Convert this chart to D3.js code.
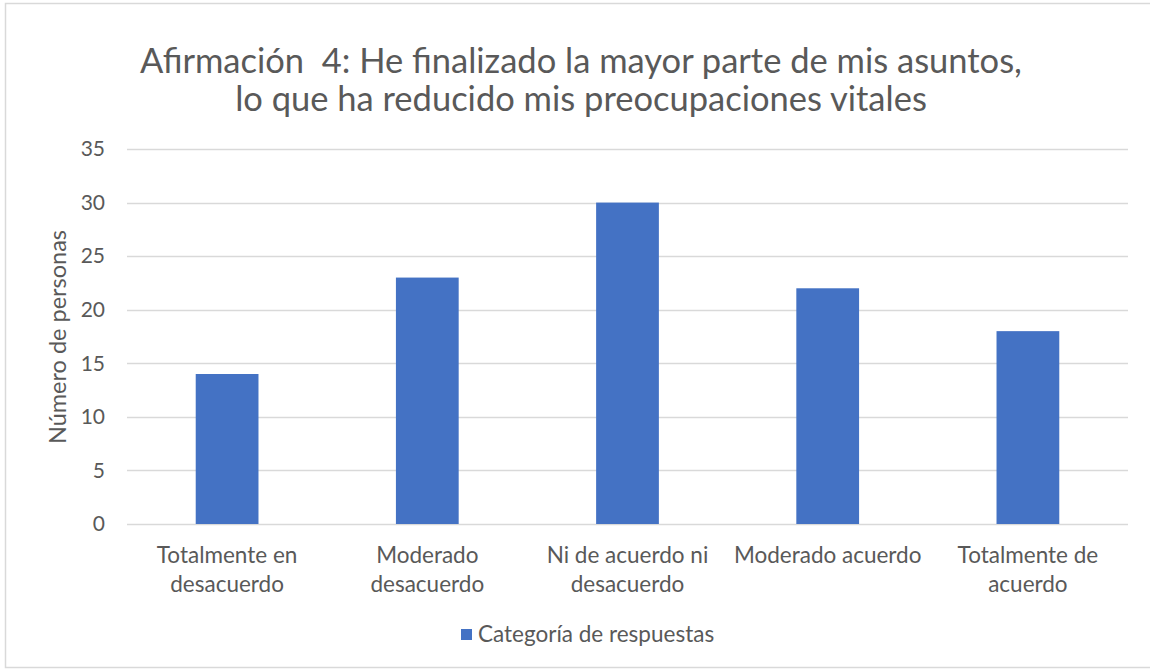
<!DOCTYPE html>
<html>
<head>
<meta charset="utf-8">
<script src="https://cdn.jsdelivr.net/npm/d3@7"></script>
<style>
  body { margin: 0; background: #fff; }
  text { font-family: Lato, "Open Sans", sans-serif; fill: #595959; white-space: pre; }
</style>
</head>
<body>
<svg id="chart"></svg>
<script>
var titleLines = ['Afirmación  4: He finalizado la mayor parte de mis asuntos,',
                  'lo que ha reducido mis preocupaciones vitales'];
var categories = [['Totalmente en', 'desacuerdo'],
                  ['Moderado', 'desacuerdo'],
                  ['Ni de acuerdo ni', 'desacuerdo'],
                  ['Moderado acuerdo'],
                  ['Totalmente de', 'acuerdo']];
var values = [14, 23, 30, 22, 18];
var yTicks = [0, 5, 10, 15, 20, 25, 30, 35];
var seriesName = 'Categoría de respuestas';
var yLabel = 'Número de personas';

var width = 1150,
    height = 672,
    plotLeft = 127,
    plotRight = 1128,
    plotTop = 149,
    plotBottom = 524,
    barColor = '#4472c4',
    gridColor = '#d9d9d9';

var svg = d3.select('svg#chart')
    .attr('width', width)
    .attr('height', height);

// outer frame
svg.append('rect')
    .attr('x', 5.5)
    .attr('y', 3.5)
    .attr('width', 1160)
    .attr('height', 664)
    .attr('fill', 'white')
    .attr('stroke', gridColor)
    .attr('stroke-width', 1.5);

var x = d3.scaleBand()
    .domain(d3.range(categories.length))
    .range([plotLeft, plotRight])
    .padding(0);

var y = d3.scaleLinear()
    .domain([0, 35])
    .range([plotBottom, plotTop]);

// gridlines
svg.append('g')
    .selectAll('line')
    .data(yTicks)
    .enter().append('line')
    .attr('x1', plotLeft)
    .attr('x2', plotRight)
    .attr('y1', function(d) { return Math.round(y(d)) + 0.5; })
    .attr('y2', function(d) { return Math.round(y(d)) + 0.5; })
    .attr('stroke', gridColor)
    .attr('stroke-width', 1.3);

// y tick labels via axis
var yAxis = svg.append('g')
    .attr('transform', 'translate(' + (plotLeft - 22) + ',0)')
    .call(d3.axisLeft(y).tickValues(yTicks).tickSize(0).tickPadding(0));
yAxis.select('.domain').remove();
yAxis.selectAll('text')
    .attr('font-size', 21)
    .attr('font-family', null)
    .attr('fill', null);

// bars
var barWidth = x.bandwidth() / 3.19;
svg.append('g')
    .selectAll('rect')
    .data(values)
    .enter().append('rect')
    .attr('x', function(d, i) { return x(i) + (x.bandwidth() - barWidth) / 2; })
    .attr('y', function(d) { return y(d); })
    .attr('width', barWidth)
    .attr('height', function(d) { return y(0) - y(d); })
    .attr('fill', barColor);

// x category labels
var xl = svg.append('g')
    .selectAll('text')
    .data(categories)
    .enter().append('text')
    .attr('text-anchor', 'middle')
    .attr('font-size', 22.5)
    .attr('x', function(d, i) { return x(i) + x.bandwidth() / 2; });
xl.selectAll('tspan')
    .data(function(d) { return d; })
    .enter().append('tspan')
    .attr('x', function() { return d3.select(this.parentNode).attr('x'); })
    .attr('y', function(d, i) { return 563 + i * 29; })
    .text(function(d) { return d; });

// y axis title
svg.append('text')
    .attr('transform', 'translate(66,337) rotate(-90)')
    .attr('text-anchor', 'middle')
    .attr('font-size', 23.5)
    .text(yLabel);

// title
svg.append('g')
    .selectAll('text')
    .data(titleLines)
    .enter().append('text')
    .attr('x', 581)
    .attr('y', function(d, i) { return 73 + i * 38; })
    .attr('text-anchor', 'middle')
    .attr('font-size', 34.5)
    .text(function(d) { return d; });

// legend
svg.append('rect')
    .attr('x', 461)
    .attr('y', 629)
    .attr('width', 11)
    .attr('height', 11)
    .attr('fill', barColor);
svg.append('text')
    .attr('x', 478)
    .attr('y', 642)
    .attr('font-size', 22.5)
    .text(seriesName);
</script>
</body>
</html>
